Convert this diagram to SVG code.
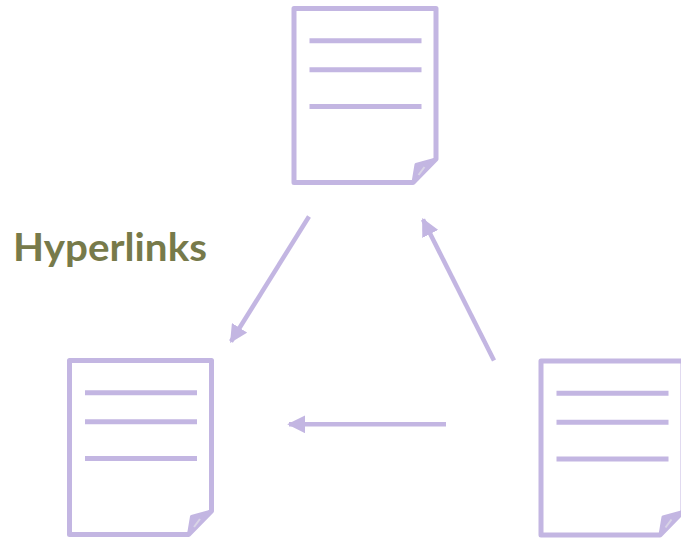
<svg xmlns="http://www.w3.org/2000/svg" width="681" height="541" viewBox="0 0 681 541">
  <style>
    .frame { fill: #ffffff; stroke: #c3b6e2; stroke-width: 5; stroke-linejoin: round; }
    .flap { fill: #c3b6e2; stroke: #c3b6e2; stroke-width: 3; stroke-linejoin: round; }
    .txtline { stroke: #c3b6e2; stroke-width: 5; }
    .conn { stroke: #c3b6e2; stroke-width: 4.5; fill: none; }
    .label { font-family: Lato, "Noto Sans", sans-serif; font-weight: bold; font-size: 39px; fill: #777a4a; }
  </style>
  <defs>
    <marker id="arrow" markerWidth="4" markerHeight="4" refX="3.6" refY="2" orient="auto" markerUnits="strokeWidth" viewBox="0 0 4 4">
      <path d="M0,0 L4,2 L0,4 Z" fill="#c3b6e2"/>
    </marker>
    <g id="doc">
      <path class="frame" d="M2.5,2.5 H144.5 V153 L121.5,176.5 H2.5 Z"/>
      <path class="flap" d="M144.5,153 L124.5,158.5 L121.5,176.5 Z"/>
      <path d="M127,169 L133,161" stroke="#d9d4e6" stroke-width="2"/>
      <line class="txtline" x1="18" y1="34.7" x2="130" y2="34.7"/>
      <line class="txtline" x1="18" y1="63.7" x2="130" y2="63.7"/>
      <line class="txtline" x1="18" y1="100.5" x2="130" y2="100.5"/>
    </g>
  </defs>

  <g id="node-top">
    <use href="#doc" x="291.5" y="6"/>
  </g>
  <g id="node-left">
    <use href="#doc" x="67" y="358"/>
  </g>
  <g id="node-right">
    <use href="#doc" x="538.5" y="358.5"/>
  </g>

  <g id="label-hyperlinks">
    <text class="label" x="13" y="261" textLength="194" lengthAdjust="spacingAndGlyphs">Hyperlinks</text>
  </g>

  <g id="connectors">
    <line class="conn" x1="309" y1="216.5" x2="231" y2="341.5" marker-end="url(#arrow)"/>
    <line class="conn" x1="494" y1="360.5" x2="423" y2="219.5" marker-end="url(#arrow)"/>
    <line class="conn" x1="446" y1="424.3" x2="289" y2="424.3" marker-end="url(#arrow)"/>
  </g>
</svg>
